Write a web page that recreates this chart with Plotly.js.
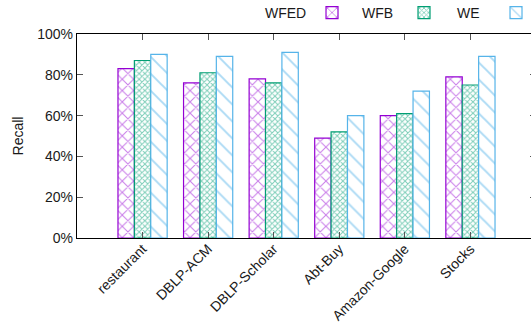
<!DOCTYPE html>
<html>
<head>
<meta charset="utf-8">
<script src="https://cdn.plot.ly/plotly-3.0.1.min.js"></script>
<style>
  html, body { margin: 0; padding: 0; overflow: hidden; background: #fff; }
  #chart { width: 600px; height: 327px; }
</style>
</head>
<body>
<div id="chart"></div>
<script>
// Recall per dataset for the three methods
const datasets = ["restaurant", "DBLP-ACM", "DBLP-Scholar", "Abt-Buy", "Amazon-Google", "Stocks"];
const wfed = [83, 76, 78, 49, 60, 79];
const wfb  = [87, 81, 76, 52, 61, 75];
const we   = [90, 89, 91, 60, 72, 89];
const seriesNames = ["WFED", "WFB", "WE"];
const yTicks = [0, 20, 40, 60, 80, 100];
const yTickText = ["0%", "20%", "40%", "60%", "80%", "100%"];

const FONT = "Liberation Sans, Arial, sans-serif";
const TEXT = "#1a1a1a";

function barTrace(values, color, shape, size, solidity) {
  return {
    type: "bar",
    x: datasets,
    y: values,
    name: "",
    marker: {
      color: "#ffffff",
      line: { color: color, width: 1.2 },
      pattern: { shape: shape, fgcolor: color, bgcolor: "#ffffff", size: size, solidity: solidity, fillmode: "overlay" }
    }
  };
}

const traces = [
  barTrace(wfed, "#9400D3", "x", 8, 0.25),
  barTrace(wfb, "#009E73", "x", 4, 0.45),
  barTrace(we, "#56B4E9", "\\", 12, 0.16)
];

const axisCommon = {
  showline: true,
  linecolor: "#000",
  linewidth: 1.2,
  mirror: "ticks",
  ticks: "inside",
  tickcolor: "#555",
  ticklen: 6,
  showgrid: false,
  zeroline: false,
  tickfont: { family: FONT, size: 14, color: TEXT }
};

// legend text sits to the left of each swatch
const legendTextX = [0.503, 0.692, 0.882];

const layout = {
  width: 600,
  height: 327,
  margin: { l: 77, r: 64, t: 34, b: 89, autoexpand: false },
  paper_bgcolor: "#fff",
  plot_bgcolor: "#fff",
  barmode: "group",
  bargap: 0.25,
  bargroupgap: 0,
  font: { family: FONT, size: 14, color: TEXT },
  xaxis: Object.assign({}, axisCommon, {
    type: "category",
    range: [-1, 6],
    tickangle: -45,
    ticklabelstandoff: -4
  }),
  yaxis: Object.assign({}, axisCommon, {
    range: [0, 100],
    tickvals: yTicks,
    ticktext: yTickText,
    title: { text: "Recall", font: { family: FONT, size: 14, color: TEXT }, standoff: 10 }
  }),
  showlegend: true,
  legend: {
    orientation: "h",
    xanchor: "left",
    yanchor: "middle",
    x: 0.512,
    y: 1.103,
    entrywidth: 47,
    entrywidthmode: "pixels",
    font: { family: FONT, size: 14 },
    bgcolor: "rgba(0,0,0,0)"
  },
  annotations: seriesNames.map((name, i) => ({
    text: name,
    xref: "paper",
    yref: "paper",
    x: legendTextX[i],
    y: 1.103,
    xanchor: "right",
    yanchor: "middle",
    showarrow: false,
    font: { family: FONT, size: 14, color: TEXT }
  }))
};

Plotly.newPlot("chart", traces, layout, { displayModeBar: false, staticPlot: true });
</script>
</body>
</html>
